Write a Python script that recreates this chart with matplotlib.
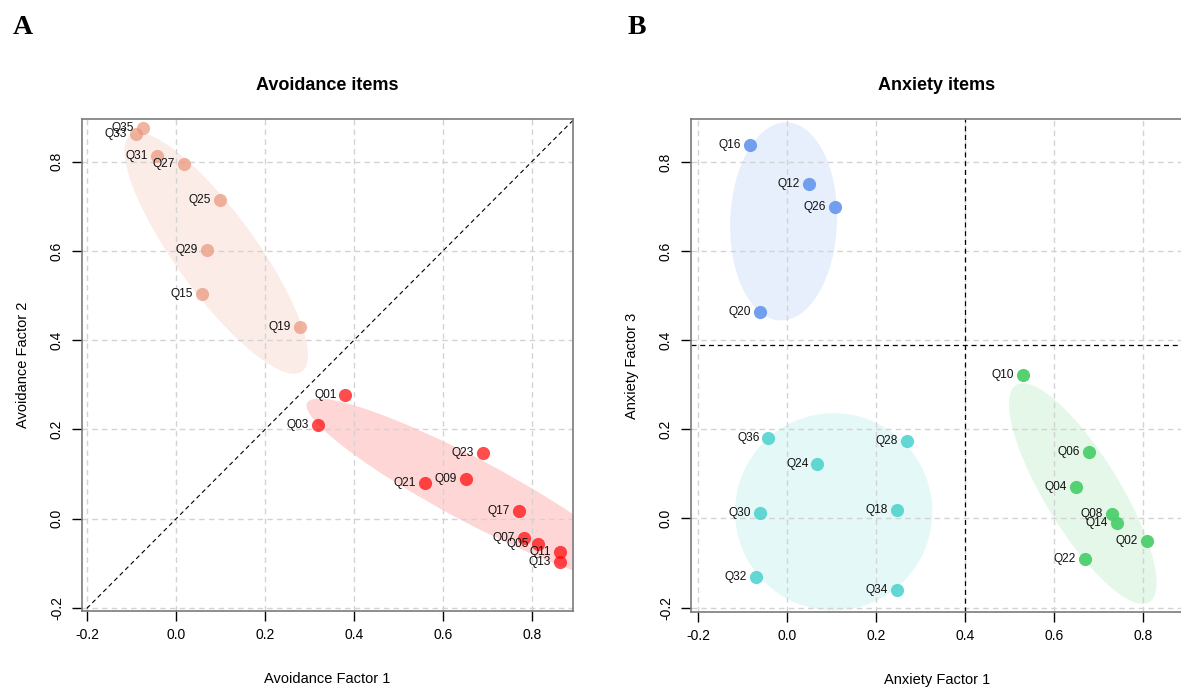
import numpy as np
import matplotlib
matplotlib.use("Agg")
import matplotlib.pyplot as plt
from matplotlib.patches import Ellipse

plt.rcParams["font.family"] = ["Liberation Sans", "DejaVu Sans"]

# ---- Panel A: avoidance items -------------------------------------------
avoid_f2_items = ["Q35", "Q33", "Q31", "Q27", "Q25", "Q29", "Q15", "Q19"]
avoid_f2_x = [-0.074, -0.090, -0.043, 0.018, 0.099, 0.070, 0.058, 0.279]
avoid_f2_y = [0.876, 0.863, 0.813, 0.796, 0.715, 0.602, 0.503, 0.429]

avoid_f1_items = ["Q01", "Q03", "Q23", "Q09", "Q21", "Q17", "Q07", "Q05", "Q11", "Q13"]
avoid_f1_x = [0.381, 0.319, 0.690, 0.652, 0.560, 0.771, 0.782, 0.814, 0.864, 0.864]
avoid_f1_y = [0.278, 0.209, 0.148, 0.088, 0.079, 0.018, -0.044, -0.056, -0.075, -0.097]

# ---- Panel B: anxiety items ---------------------------------------------
anx_f3_items = ["Q16", "Q12", "Q26", "Q20"]
anx_f3_x = [-0.083, 0.048, 0.108, -0.062]
anx_f3_y = [0.839, 0.751, 0.699, 0.463]

anx_f2_items = ["Q36", "Q28", "Q24", "Q30", "Q18", "Q32", "Q34"]
anx_f2_x = [-0.042, 0.268, 0.068, -0.061, 0.247, -0.071, 0.247]
anx_f2_y = [0.180, 0.173, 0.122, 0.012, 0.019, -0.132, -0.161]

anx_f1_items = ["Q10", "Q06", "Q04", "Q08", "Q14", "Q02", "Q22"]
anx_f1_x = [0.530, 0.678, 0.649, 0.729, 0.740, 0.808, 0.669]
anx_f1_y = [0.322, 0.150, 0.071, 0.011, -0.011, -0.050, -0.090]

# cluster ellipses: (centre x, centre y, full width, full height, angle deg)
avoid_f2_ell = (0.090, 0.595, 0.656, 0.180, -53.9)
avoid_f1_ell = (0.668, 0.062, 0.845, 0.140, -27.9)
anx_f3_ell = (-0.008, 0.667, 0.445, 0.240, 88.0)
anx_f2_ell = (0.1045, 0.015, 0.443, 0.443, 0.0)
anx_f1_ell = (0.664, 0.056, 0.572, 0.168, -58.5)

ticks = [-0.2, 0.0, 0.2, 0.4, 0.6, 0.8]

W, H = 1181, 688
fig = plt.figure(figsize=(W / 100, H / 100), dpi=100)


def px_axes(left, right, top, bottom):
    return fig.add_axes([left / W, 1 - bottom / H, (right - left) / W, (bottom - top) / H])


def draw_group(ax, items, xs, ys, ell, color, pt_alpha, ell_alpha):
    cx, cy, w, h, ang = ell
    ax.add_patch(Ellipse((cx, cy), w, h, angle=ang, facecolor=color,
                         edgecolor="none", alpha=ell_alpha, zorder=0.5))
    ax.scatter(xs, ys, s=90, color=color, alpha=pt_alpha, linewidths=0, zorder=3)
    for lab, x, y in zip(items, xs, ys):
        ax.annotate(lab, (x, y), xytext=(-6.5, 0), textcoords="offset points",
                    ha="right", va="center", fontsize=8.6, color="#111111", zorder=4)


def style_axes(ax, title, xlabel, ylabel, xlim, ylim):
    ax.set_xlim(*xlim)
    ax.set_ylim(*ylim)
    for t in ticks:
        ax.axvline(t, color="#D3D3D3", lw=1, ls=(0, (4, 3)), zorder=1)
        ax.axhline(t, color="#D3D3D3", lw=1, ls=(0, (4, 3)), zorder=1)
    ax.set_xticks(ticks)
    ax.set_yticks(ticks)
    ax.set_xticklabels([f"{t:.1f}" for t in ticks], fontsize=10)
    ax.set_yticklabels([f"{t:.1f}" for t in ticks], fontsize=10, rotation=90, va="center")
    ax.tick_params(axis="x", length=7, width=1, pad=5)
    ax.tick_params(axis="y", length=7, width=1, pad=6)
    for s in ax.spines.values():
        s.set_color("#7a7a7a")
        s.set_linewidth(1.2)
    ax.set_title(title, fontsize=13, fontweight="bold", pad=21)
    ax.set_xlabel(xlabel, fontsize=10.5, labelpad=22)
    ax.set_ylabel(ylabel, fontsize=10.5, labelpad=14.5)


# ---- panel A
axA = px_axes(82, 573, 119, 611)
draw_group(axA, avoid_f2_items, avoid_f2_x, avoid_f2_y, avoid_f2_ell, "#E9967A", 0.7, 0.18)
draw_group(axA, avoid_f1_items, avoid_f1_x, avoid_f1_y, avoid_f1_ell, "#FF0000", 0.7, 0.16)
style_axes(axA, "Avoidance items", "Avoidance Factor 1", "Avoidance Factor 2",
           (-0.212, 0.893), (-0.207, 0.896))
axA.plot([-0.3, 1.0], [-0.3, 1.0], color="black", lw=0.8, ls=(0, (4, 3)), zorder=2)

# ---- panel B
axB = px_axes(691, 1183, 119, 612)
draw_group(axB, anx_f3_items, anx_f3_x, anx_f3_y, anx_f3_ell, "#6495ED", 0.9, 0.15)
draw_group(axB, anx_f2_items, anx_f2_x, anx_f2_y, anx_f2_ell, "#48D1CC", 0.85, 0.15)
draw_group(axB, anx_f1_items, anx_f1_x, anx_f1_y, anx_f1_ell, "#4CCF6C", 0.95, 0.15)
style_axes(axB, "Anxiety items", "Anxiety Factor 1", "Anxiety Factor 3",
           (-0.216, 0.889), (-0.210, 0.897))
axB.axvline(0.4, color="black", lw=0.9, ls=(0, (4, 3)), zorder=2)
axB.axhline(0.390, color="black", lw=0.9, ls=(0, (4, 3)), zorder=2)

# panel letters
fig.text(13 / W, 1 - 34 / H, "A", fontsize=20, fontweight="bold",
         family="Liberation Serif", ha="left", va="baseline")
fig.text(628 / W, 1 - 34 / H, "B", fontsize=20, fontweight="bold",
         family="Liberation Serif", ha="left", va="baseline")

fig.savefig("out.png", dpi=100)
